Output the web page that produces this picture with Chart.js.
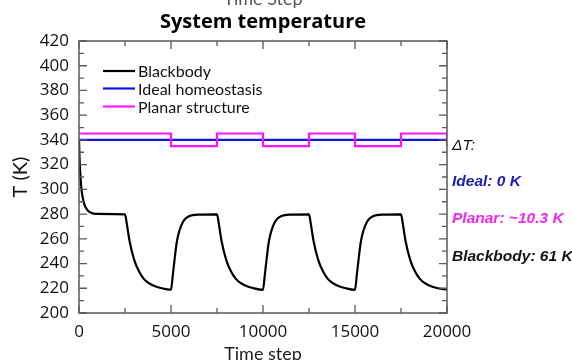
<!DOCTYPE html>
<html>
<head>
<meta charset="utf-8">
<script src="https://cdn.jsdelivr.net/npm/chart.js@4/dist/chart.umd.min.js"></script>
<style>
  html, body { margin: 0; padding: 0; background: #fff; }
</style>
</head>
<body>
<canvas id="tempChart" width="572" height="360"></canvas>
<script>
// 数据
const bbSteps = [0, 25, 50, 100, 150, 200, 300, 400, 500, 700, 900, 2500,
  2600, 2750, 3000, 3250, 3500, 3750, 4000, 4500, 5000,
  5100, 5200, 5300, 5400, 5550, 5700, 6000, 6500, 7500,
  7600, 7750, 8000, 8250, 8500, 8750, 9000, 9500, 10000,
  10100, 10200, 10300, 10400, 10550, 10700, 11000, 11500, 12500,
  12600, 12750, 13000, 13250, 13500, 13750, 14000, 14500, 15000,
  15100, 15200, 15300, 15400, 15550, 15700, 16000, 16500, 17500,
  17600, 17750, 18000, 18250, 18500, 18750, 19000, 19500, 20000];
const bbTemps = [340, 327, 318, 306, 298, 293.5, 287.5, 284.5, 282.5, 280.8, 280.2, 279.8,
  272, 258, 243, 234, 228, 224.5, 222.5, 220, 218.8,
  231, 244, 256, 263.5, 270.5, 275, 278.5, 279.6, 279.8,
  272, 258, 243, 234, 228, 224.5, 222.5, 220, 218.7,
  231, 244, 256, 263.5, 270.5, 275, 278.5, 279.6, 279.8,
  272, 258, 243, 234, 228, 224.5, 222.5, 220, 218.7,
  231, 244, 256, 263.5, 270.5, 275, 278.5, 279.6, 279.8,
  272, 258, 243, 234, 228, 224.5, 222.5, 220, 219];

const idealSteps = [0, 20000];
const idealTemps = [340, 340];

const planarSteps = [0, 2500, 5000, 7500, 10000, 12500, 15000, 17500, 20000];
const planarTemps = [345.2, 345.2, 334.9, 345.2, 334.9, 345.2, 334.9, 345.2, 334.9];

const seriesLabels = ['Blackbody', 'Ideal homeostasis', 'Planar structure'];
const seriesColors = ['#000000', '#1414e0', '#ff14ff'];

const yTicks = [200, 220, 240, 260, 280, 300, 320, 340, 360, 380, 400, 420];
const xTicks = [0, 5000, 10000, 15000, 20000];

const notes = [
  { text: '\u0394T:', color: '#111', font: 'italic 15.5px "Liberation Sans"', y: 146 },
  { text: 'Ideal: 0 K', color: '#1c1cb4', font: 'italic bold 15.5px "Liberation Sans"', y: 182 },
  { text: 'Planar: ~10.3 K', color: '#ee2aee', font: 'italic bold 15.5px "Liberation Sans"', y: 219 },
  { text: 'Blackbody: 61 K', color: '#111', font: 'italic bold 15.5px "Liberation Sans"', y: 257 }
];

const toPoints = (xs, ys) => xs.map((v, i) => ({ x: v, y: ys[i] }));

// 边框、内向刻度、图例、标题和右侧注释
const extras = {
  id: 'extras',
  afterDatasetsDraw(chart) {
    const { ctx, chartArea: a, scales: { x, y } } = chart;
    ctx.save();
    ctx.strokeStyle = '#5a5a5a';
    ctx.lineWidth = 1.5;
    ctx.strokeRect(a.left, a.top, a.right - a.left, a.bottom - a.top);
    ctx.lineWidth = 1.3;
    ctx.beginPath();
    for (let v = 200; v <= 420; v += 10) {
      const py = y.getPixelForValue(v);
      const len = v % 20 === 0 ? 8 : 5;
      ctx.moveTo(a.left, py); ctx.lineTo(a.left + len, py);
      ctx.moveTo(a.right, py); ctx.lineTo(a.right - len, py);
    }
    for (let v = 0; v <= 20000; v += 2500) {
      const px = x.getPixelForValue(v);
      const len = v % 5000 === 0 ? 8 : 5;
      ctx.moveTo(px, a.bottom); ctx.lineTo(px, a.bottom - len);
      ctx.moveTo(px, a.top); ctx.lineTo(px, a.top + len);
    }
    ctx.stroke();

    // 图例
    ctx.font = '16px Lato';
    ctx.textBaseline = 'middle';
    ctx.lineWidth = 2.2;
    const legendY = [71, 88.5, 106.5];
    seriesLabels.forEach((label, i) => {
      ctx.strokeStyle = seriesColors[i];
      ctx.beginPath();
      ctx.moveTo(103, legendY[i]); ctx.lineTo(135, legendY[i]);
      ctx.stroke();
      ctx.fillStyle = '#111';
      ctx.fillText(label, 138, legendY[i] + 1);
    });

    // 右侧注释
    notes.forEach(n => {
      ctx.font = n.font;
      ctx.fillStyle = n.color;
      ctx.fillText(n.text, 452, n.y);
    });

    // 标题
    const cx = (a.left + a.right) / 2;
    ctx.textAlign = 'center';
    ctx.font = 'bold 20px "Open Sans"';
    ctx.fillStyle = '#000';
    ctx.fillText('System temperature', cx, 22);

    // 顶部被裁剪的标题
    ctx.font = '18px Lato';
    ctx.fillStyle = '#555';
    ctx.textBaseline = 'alphabetic';
    ctx.fillText('Time Step', cx, 5);
    ctx.restore();
  }
};

const ctx = document.getElementById('tempChart').getContext('2d');
new Chart(ctx, {
  type: 'line',
  data: {
    datasets: [
      {
        label: seriesLabels[0],
        data: toPoints(bbSteps, bbTemps),
        borderColor: seriesColors[0],
        borderWidth: 2.2,
        cubicInterpolationMode: 'monotone',
        pointRadius: 0,
        order: 0
      },
      {
        label: seriesLabels[1],
        data: toPoints(idealSteps, idealTemps),
        borderColor: seriesColors[1],
        borderWidth: 2.2,
        pointRadius: 0,
        order: 2
      },
      {
        label: seriesLabels[2],
        data: toPoints(planarSteps, planarTemps),
        borderColor: seriesColors[2],
        borderWidth: 2.2,
        stepped: 'before',
        pointRadius: 0,
        order: 1
      }
    ]
  },
  options: {
    responsive: false,
    animation: false,
    layout: { padding: { left: 0, right: 125, top: 41, bottom: 0 } },
    plugins: {
      legend: { display: false },
      tooltip: { enabled: false },
      title: { display: false }
    },
    scales: {
      x: {
        type: 'linear',
        min: 0,
        max: 20000,
        afterBuildTicks: s => { s.ticks = xTicks.map(v => ({ value: v })); },
        afterFit: s => { s.height = 47; },
        grid: { display: false, drawTicks: false },
        border: { display: false },
        ticks: {
          color: '#111', padding: 9, maxRotation: 0,
          font: { family: 'Open Sans', size: 17 },
          callback: v => String(v)
        },
        title: {
          display: true,
          text: 'Time step',
          color: '#222',
          padding: { top: 0, bottom: -5 },
          font: { family: 'Lato', size: 18 }
        }
      },
      y: {
        min: 200,
        max: 420,
        afterBuildTicks: s => { s.ticks = yTicks.map(v => ({ value: v })); },
        afterFit: s => { s.width = 79; },
        grid: { display: false, drawTicks: false },
        border: { display: false },
        ticks: { color: '#111', padding: 10, font: { family: 'Open Sans', size: 17 } },
        title: {
          display: true,
          text: 'T (K)',
          color: '#111',
          padding: { top: 9, bottom: 0 },
          font: { family: 'Lato', size: 20 }
        }
      }
    }
  },
  plugins: [extras]
});
</script>
</body>
</html>
